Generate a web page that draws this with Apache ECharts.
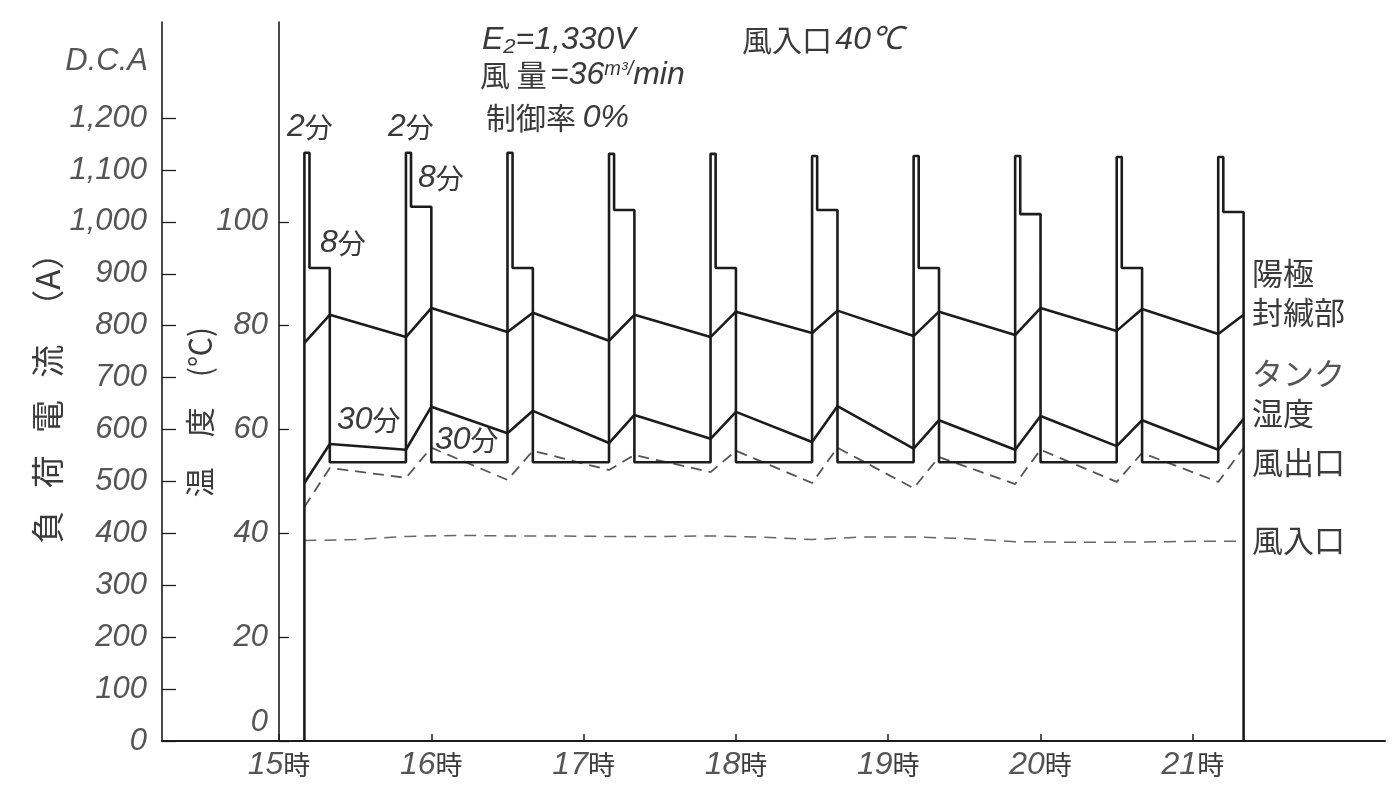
<!DOCTYPE html>
<html><head><meta charset="utf-8">
<script src="https://cdn.jsdelivr.net/npm/echarts@6/dist/echarts.min.js"></script>
<style>html,body{margin:0;padding:0;background:#fff}#c{width:1400px;height:799px}</style>
</head><body><div id="c"></div>
<script>
// ---- data (time = minutes after 15:00) ----
const hourTicks = [0, 60, 120, 180, 240, 300, 360];
const hourLabels = ['15時', '16時', '17時', '18時', '19時', '20時', '21時'];
const currentTicks = [0, 100, 200, 300, 400, 500, 600, 700, 800, 900, 1000, 1100, 1200];
const currentTickLabels = ['0', '100', '200', '300', '400', '500', '600', '700', '800', '900', '1,000', '1,100', '1,200'];
const tempTicks = [0, 20, 40, 60, 80, 100];
const tempTickLabels = ['0', '20', '40', '60', '80', '100'];

// load current cycles: 2 min peak, 8 min step, 30 min low
const cycleStart = [10, 50, 90, 130, 170, 210, 250, 290, 330, 370];
const peakMinutes = 2;
const highMinutes = 10;
const peakCurrent = [1133, 1133, 1133, 1131, 1131, 1127, 1127, 1127, 1125, 1125];
const stepCurrent = [911, 1029, 911, 1023, 911, 1023, 911, 1015, 911, 1019];
const lowCurrent = [537, 537, 537, 537, 537, 537, 537, 537, 537];

const tempTimes = [10, 20, 50, 60, 90, 100, 130, 140, 170, 180, 210, 220, 250, 260, 290, 300, 330, 340, 370, 380];
const anodeTemp = [76.7, 82.1, 77.8, 83.4, 78.8, 82.5, 77.1, 82.1, 77.8, 82.7, 78.6, 82.9, 78.0, 82.7, 78.2, 83.4, 79.0, 83.2, 78.4, 82.1];
const tankTemp = [49.7, 57.2, 56.1, 64.4, 59.3, 63.6, 57.4, 62.8, 58.2, 63.4, 57.6, 64.5, 56.3, 61.8, 56.1, 62.6, 56.8, 61.8, 56.1, 62.0];
const outletTemp = [45.1, 52.6, 50.7, 56.5, 50.3, 55.9, 52.2, 55.1, 51.8, 55.9, 49.7, 56.5, 48.7, 54.7, 49.5, 56.1, 49.9, 55.5, 49.9, 56.5];
const inletTimes = [10, 30, 50, 70, 90, 110, 130, 150, 170, 190, 210, 230, 250, 270, 290, 310, 330, 350, 370, 380];
const inletTemp = [38.6, 38.8, 39.4, 39.6, 39.5, 39.5, 39.4, 39.4, 39.5, 39.3, 38.8, 39.3, 39.3, 39.0, 38.4, 38.3, 38.3, 38.4, 38.5, 38.5];

// ---- build series ----
const currentData = [];
cycleStart.forEach((t, i) => {
  const prev = i === 0 ? 0 : lowCurrent[i - 1];
  currentData.push([t, prev]);
  currentData.push([t, peakCurrent[i]]);
  currentData.push([t + peakMinutes, peakCurrent[i]]);
  currentData.push([t + peakMinutes, stepCurrent[i]]);
  currentData.push([t + highMinutes, stepCurrent[i]]);
  currentData.push([t + highMinutes, i < lowCurrent.length ? lowCurrent[i] : 0]);
});
const pair = (xs, ys) => xs.map((x, i) => [x, ys[i]]);

const FN = "'Liberation Sans Narrow','Liberation Sans',sans-serif";
const FJ = "'Noto Sans CJK JP',sans-serif";
const NUM = '#555';
const TXT = '#3a3a3a';
const LINE = '#1c1c1c';

function txt(text, x, y, rich, extra) {
  return {
    type: 'text', x: x, y: y, silent: true,
    style: Object.assign({ text: text, rich: rich, align: 'left', verticalAlign: 'middle', fill: TXT }, extra || {})
  };
}
const richStd = {
  n: { fontFamily: FN, fontStyle: 'italic', fontSize: 32, color: NUM },
  j: { fontFamily: FJ, fontSize: 30, color: TXT },
  g: { fontFamily: FJ, fontSize: 28, color: '#777' },
  gn: { fontFamily: FN, fontStyle: 'italic', fontSize: 32, color: '#777' },
  s: { fontFamily: FN, fontStyle: 'italic', fontSize: 20, color: NUM, verticalAlign: 'top' }
};

const chart = echarts.init(document.getElementById('c'));
chart.setOption({
  animation: false,
  backgroundColor: '#fff',
  grid: { left: 162, right: 15, top: 22, bottom: 58, containLabel: false },
  xAxis: {
    type: 'value', min: -46.1, max: 435.7,
    axisLine: { onZero: false, lineStyle: { color: LINE, width: 2 } },
    axisTick: { show: true, inside: true, length: 7, customValues: hourTicks, lineStyle: { color: LINE, width: 1.5 } },
    axisLabel: {
      customValues: hourTicks, margin: 8,
      formatter: v => { const s = hourLabels[hourTicks.indexOf(v)] || ''; return s.replace(/^(\d+)(.*)$/, '{n|$1}{j|$2}'); },
      rich: { n: { fontFamily: FN, fontStyle: 'italic', fontSize: 32, color: NUM }, j: { fontFamily: FJ, fontSize: 27, color: TXT } }
    },
    splitLine: { show: false }
  },
  yAxis: [{
    type: 'value', position: 'left', min: 0, max: 1385,
    axisLine: { show: true, onZero: false, lineStyle: { color: LINE, width: 1.6 } },
    axisTick: { show: true, inside: true, length: 14, customValues: currentTicks, lineStyle: { color: LINE, width: 1.3 } },
    axisLabel: {
      customValues: currentTicks, margin: 15,
      formatter: v => currentTickLabels[currentTicks.indexOf(v)],
      fontFamily: FN, fontStyle: 'italic', fontSize: 31, color: NUM
    },
    splitLine: { show: false }
  }, {
    type: 'value', position: 'left', offset: -117, min: 0, max: 138.5,
    axisLine: { show: true, onZero: false, lineStyle: { color: LINE, width: 1.6 } },
    axisTick: { show: true, inside: true, length: 10, customValues: tempTicks, lineStyle: { color: LINE, width: 1.3 } },
    axisLabel: {
      customValues: tempTicks, margin: 11,
      formatter: v => { const s = tempTickLabels[tempTicks.indexOf(v)]; return v === 0 ? '{z|' + s + '}' : s; },
      fontFamily: FN, fontStyle: 'italic', fontSize: 31, color: NUM,
      rich: { z: { fontFamily: FN, fontStyle: 'italic', fontSize: 31, color: NUM, padding: [0, 0, 38, 0] } }
    },
    splitLine: { show: false }
  }],
  series: [
    { name: '負荷電流', type: 'line', data: currentData, showSymbol: false, yAxisIndex: 0,
      lineStyle: { color: LINE, width: 2.6 }, z: 5 },
    { name: '陽極封緘部', type: 'line', data: pair(tempTimes, anodeTemp), showSymbol: false, yAxisIndex: 1,
      lineStyle: { color: LINE, width: 2.6 } },
    { name: 'タンク温度', type: 'line', data: pair(tempTimes, tankTemp), showSymbol: false, yAxisIndex: 1,
      lineStyle: { color: LINE, width: 2.6 } },
    { name: '風出口', type: 'line', data: pair(tempTimes, outletTemp), showSymbol: false, yAxisIndex: 1,
      lineStyle: { color: '#555', width: 1.8, type: [11, 7] } },
    { name: '風入口', type: 'line', data: pair(inletTimes, inletTemp), showSymbol: false, yAxisIndex: 1,
      lineStyle: { color: '#666', width: 1.5, type: [12, 8] } }
  ],
  graphic: [
    txt('D.C.A', 148, 61, null, { align: 'right', fontFamily: FN, fontStyle: 'italic', fontSize: 31, fill: NUM }),
    { type: 'text', x: 47, y: 390, rotation: Math.PI / 2, silent: true,
      style: { text: '負   荷   電   流   （A）', fontFamily: FJ, fontSize: 33, fill: TXT, align: 'center', verticalAlign: 'middle' } },
    { type: 'text', x: 200, y: 412, rotation: Math.PI / 2, silent: true,
      style: { text: '温　度　(℃)', fontFamily: FJ, fontSize: 30, fill: TXT, align: 'center', verticalAlign: 'middle' } },
    txt('{n|E₂=1,330V}', 482, 40, richStd),
    txt('{j|風入口} {n|40℃}', 742, 40, richStd),
    txt('{j|風 量} {n|=36}{s|m³/}{n|min}', 480, 75, richStd),
    txt('{j|制御率}  {n|0%}', 486, 118, richStd),
    txt('{gn|2}{g|分}', 287, 127, richStd),
    txt('{gn|2}{g|分}', 388, 127, richStd),
    txt('{gn|8}{g|分}', 320, 243, richStd),
    txt('{gn|8}{g|分}', 418, 178, richStd),
    txt('{gn|30}{g|分}', 337, 420, richStd),
    txt('{gn|30}{g|分}', 435, 440, richStd),
    txt('陽極', 1252, 273, null, { fontFamily: FJ, fontSize: 31, fill: TXT }),
    txt('封緘部', 1252, 312, null, { fontFamily: FJ, fontSize: 31, fill: TXT }),
    txt('タンク', 1252, 373, null, { fontFamily: FJ, fontSize: 31, fill: '#555' }),
    txt('湿度', 1252, 413, null, { fontFamily: FJ, fontSize: 31, fill: TXT }),
    txt('風出口', 1252, 462, null, { fontFamily: FJ, fontSize: 31, fill: TXT }),
    txt('風入口', 1252, 540, null, { fontFamily: FJ, fontSize: 31, fill: TXT })
  ]
});
</script>
</body></html>
